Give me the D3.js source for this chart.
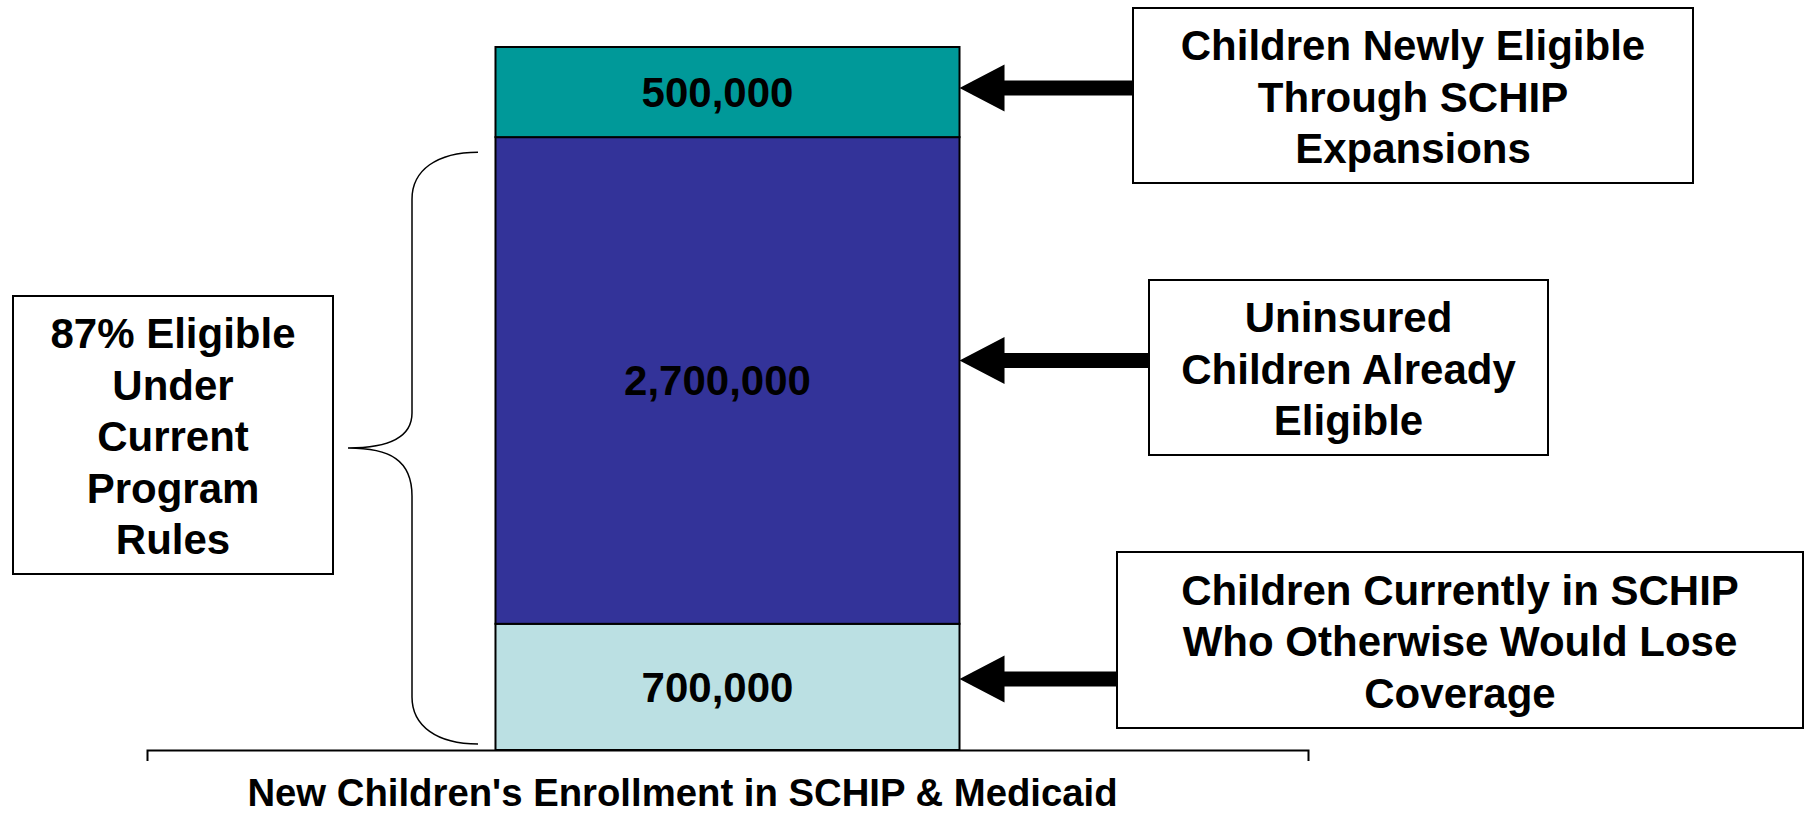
<!DOCTYPE html>
<html>
<head>
<meta charset="utf-8">
<script src="https://cdn.jsdelivr.net/npm/d3@7"></script>
<style>
  body { margin: 0; background: #fff; }
  svg { display: block; }
  text { font-family: "Liberation Sans", Arial, sans-serif; font-weight: bold; fill: #000; }
</style>
</head>
<body>
<svg id="chart" width="1807" height="814"></svg>
<script>
// data, bottom segment first
const category = ["New Children's Enrollment in SCHIP & Medicaid"];
const segmentKeys = ['currentSchip', 'alreadyEligible', 'newlyEligible'];
const segmentValues = [700000, 2700000, 500000];
const segmentColors = ['#bbe0e3', '#333399', '#009999'];
const calloutLines = [
    ['Children Currently in SCHIP', 'Who Otherwise Would Lose', 'Coverage'],
    ['Uninsured', 'Children Already', 'Eligible'],
    ['Children Newly Eligible', 'Through SCHIP', 'Expansions']
];
const bracketLines = ['Eligible', 'Under', 'Current', 'Program', 'Rules'];

// layout
const baseY = 750, topY = 47;
const lineGap = 51.5;
const calloutBoxes = [
    { x: 1117, y: 552, w: 686, h: 176, arrowShift: -8 },
    { x: 1149, y: 280, w: 399, h: 175, arrowShift: -20 },
    { x: 1133, y: 8, w: 560, h: 175, arrowShift: -4 }
];
const bracketBox = { x: 13, y: 296, w: 320, h: 278 };

const svg = d3.select('#chart');

const x = d3.scaleBand()
    .domain(category)
    .range([147, 1308])
    .paddingInner(0)
    .paddingOuter(0.751);

const total = d3.sum(segmentValues);
const y = d3.scaleLinear()
    .domain([0, total])
    .range([baseY, topY]);

let acc = 0;
const segs = segmentValues.map((v, i) => {
    const s = { key: segmentKeys[i], value: v, y0: acc, y1: acc + v, color: segmentColors[i] };
    acc += v;
    return s;
});

const barX = x(category[0]);
const barW = x.bandwidth();

// stacked bar
svg.append('g').selectAll('rect')
    .data(segs)
    .enter().append('rect')
    .attr('x', barX)
    .attr('y', d => y(d.y1))
    .attr('width', barW)
    .attr('height', d => y(d.y0) - y(d.y1))
    .attr('fill', d => d.color)
    .attr('stroke', '#000')
    .attr('stroke-width', 2);

svg.append('g').selectAll('text')
    .data(segs)
    .enter().append('text')
    .attr('x', barX + barW / 2 - 10)
    .attr('y', d => (y(d.y0) + y(d.y1)) / 2)
    .attr('dy', '0.35em')
    .attr('text-anchor', 'middle')
    .style('font-size', '42px')
    .text(d => d3.format(',')(d.value));

// callouts with arrows
const barRight = barX + barW;
const callouts = svg.append('g').selectAll('g')
    .data(segs)
    .enter().append('g');

callouts.append('path')
    .attr('d', (d, i) => {
        const b = calloutBoxes[i];
        const cy = (y(d.y0) + y(d.y1)) / 2 + b.arrowShift;
        const tip = barRight, head = tip + 45, hh = 23.5, sh = 7.5;
        return `M${tip},${cy} L${head},${cy - hh} L${head},${cy - sh} L${b.x},${cy - sh}`
            + ` L${b.x},${cy + sh} L${head},${cy + sh} L${head},${cy + hh} Z`;
    })
    .attr('fill', '#000');

callouts.append('rect')
    .attr('x', (d, i) => calloutBoxes[i].x)
    .attr('y', (d, i) => calloutBoxes[i].y)
    .attr('width', (d, i) => calloutBoxes[i].w)
    .attr('height', (d, i) => calloutBoxes[i].h)
    .attr('fill', '#fff')
    .attr('stroke', '#000')
    .attr('stroke-width', 2);

callouts.each(function (d, i) {
    const b = calloutBoxes[i];
    const lines = calloutLines[i];
    const cy = b.y + b.h / 2 + 1.5;
    d3.select(this).selectAll('text.line')
        .data(lines)
        .enter().append('text')
        .attr('class', 'line')
        .attr('x', b.x + b.w / 2)
        .attr('y', (t, j) => cy + (j - (lines.length - 1) / 2) * lineGap)
        .attr('dy', '0.35em')
        .attr('text-anchor', 'middle')
        .style('font-size', '42px')
        .text(t => t);
});

// brace over segments eligible under current rules
const currentRules = segmentValues[0] + segmentValues[1];
const share = currentRules / total;
const bTop = y(currentRules) + 15, bBot = y(0) - 6, bMid = (bTop + bBot) / 2;
const bx = 412, bEnd = 478, bTip = 348;
svg.append('path')
    .attr('d', `M${bEnd},${bTop} C${bx + 25},${bTop} ${bx},${bTop + 18} ${bx},${bTop + 47}`
        + ` L${bx},${bMid - 35} C${bx},${bMid - 12} ${bx - 22},${bMid} ${bTip},${bMid}`
        + ` C${bx - 22},${bMid} ${bx},${bMid + 12} ${bx},${bMid + 48}`
        + ` L${bx},${bBot - 47} C${bx},${bBot - 18} ${bx + 25},${bBot} ${bEnd},${bBot}`)
    .attr('fill', 'none')
    .attr('stroke', '#000')
    .attr('stroke-width', 1.5);

svg.append('rect')
    .attr('x', bracketBox.x)
    .attr('y', bracketBox.y)
    .attr('width', bracketBox.w)
    .attr('height', bracketBox.h)
    .attr('fill', '#fff')
    .attr('stroke', '#000')
    .attr('stroke-width', 2);

const bLines = bracketLines.slice();
bLines[0] = d3.format('.0%')(share) + ' ' + bLines[0];
svg.append('g').selectAll('text')
    .data(bLines)
    .enter().append('text')
    .attr('x', bracketBox.x + bracketBox.w / 2)
    .attr('y', (t, j) => bracketBox.y + bracketBox.h / 2 + 1.5 + (j - (bLines.length - 1) / 2) * lineGap)
    .attr('dy', '0.35em')
    .attr('text-anchor', 'middle')
    .style('font-size', '42px')
    .text(t => t);

// category axis
const xAxis = d3.axisBottom(x)
    .tickSizeInner(0)
    .tickSizeOuter(11)
    .tickPadding(29);

const axisG = svg.append('g')
    .attr('transform', `translate(0, ${baseY})`)
    .call(xAxis);

axisG.select('.domain')
    .attr('stroke', '#000')
    .attr('stroke-width', 2);
axisG.selectAll('.tick text')
    .attr('dx', -45)
    .attr('fill', '#000')
    .style('font-family', '"Liberation Sans", Arial, sans-serif')
    .style('font-weight', 'bold')
    .style('font-size', '38.3px');
</script>
</body>
</html>
